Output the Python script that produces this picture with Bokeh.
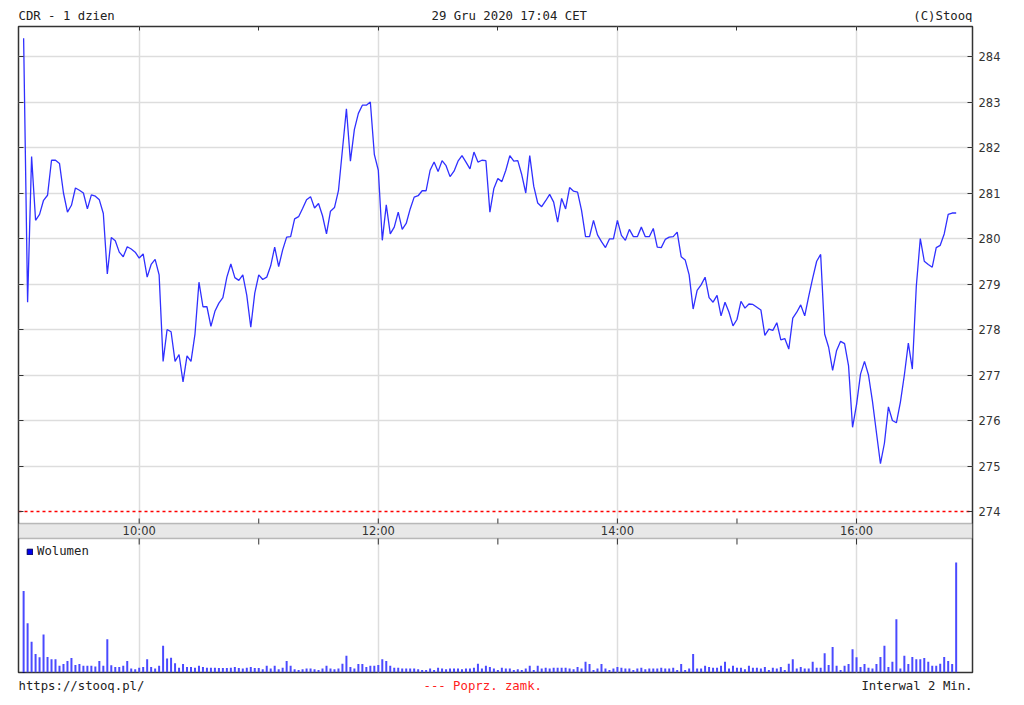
from bokeh.plotting import figure
from bokeh.layouts import column
from bokeh.models import (Range1d, LinearAxis, FixedTicker, BoxAnnotation,
                          Legend, LegendItem, Grid)
from bokeh.core.properties import value
from bokeh.embed import file_html
from bokeh.resources import INLINE

# ---------------- data ----------------
title_left = "CDR - 1 dzien"
title_center = "29 Gru 2020 17:04 CET"
title_right = "(C)Stooq"
footer_left = "https://stooq.pl/"
footer_mid = "--- Poprz. zamk."
footer_right = "Interwal 2 Min."
legend_label = "Wolumen"

start_min = 542          # 09:02, minutes after midnight
interval_min = 2         # "Interwal 2 Min."
prev_close = 274.0

price = [284.4, 278.6, 281.8, 280.4, 280.53, 280.84, 280.95, 281.72, 281.72, 281.65,
         281.0, 280.58, 280.73, 281.11, 281.06, 281.0, 280.65, 280.96, 280.93, 280.85,
         280.55, 279.22, 280.02, 279.95, 279.7, 279.6, 279.82, 279.77, 279.7, 279.57,
         279.66, 279.15, 279.43, 279.54, 279.2, 277.3, 278.0, 277.95, 277.3, 277.45,
         276.85, 277.42, 277.3, 277.9, 279.04, 278.5, 278.5, 278.07, 278.4, 278.58,
         278.7, 279.15, 279.44, 279.14, 279.08, 279.2, 278.75, 278.05, 278.8, 279.2,
         279.1, 279.15, 279.4, 279.81, 279.38, 279.75, 280.03, 280.04, 280.43, 280.48,
         280.66, 280.85, 280.92, 280.67, 280.77, 280.5, 280.1, 280.6, 280.68, 281.05,
         281.95, 282.85, 281.7, 282.4, 282.75, 282.93, 282.93, 283.0, 281.85, 281.5,
         279.96, 280.74, 280.1, 280.25, 280.58, 280.2, 280.33, 280.65, 280.91, 280.94,
         281.05, 281.05, 281.5, 281.68, 281.47, 281.71, 281.6, 281.36, 281.48, 281.7,
         281.82, 281.68, 281.53, 281.9, 281.68, 281.72, 281.71, 280.58, 281.1, 281.32,
         281.25, 281.5, 281.82, 281.7, 281.71, 281.4, 281.0, 281.82, 281.15, 280.78,
         280.7, 280.83, 280.97, 280.8, 280.36, 280.88, 280.65, 281.12, 281.04, 281.02,
         280.62, 280.04, 280.04, 280.4, 280.08, 279.93, 279.8, 279.99, 279.99, 280.4,
         280.07, 279.96, 280.2, 280.04, 280.04, 280.25, 280.04, 280.04, 280.22, 279.81,
         279.8, 279.98, 280.03, 280.04, 280.14, 279.6, 279.53, 279.2, 278.45, 278.86,
         278.98, 279.15, 278.7, 278.6, 278.75, 278.3, 278.6, 278.38, 278.08, 278.22,
         278.62, 278.47, 278.56, 278.55, 278.49, 278.43, 277.87, 278.01, 277.98, 278.15,
         277.77, 277.8, 277.57, 278.25, 278.38, 278.54, 278.3, 278.73, 279.13, 279.5,
         279.65, 277.9, 277.61, 277.1, 277.54, 277.74, 277.69, 277.2, 275.85, 276.35,
         277.02, 277.3, 277.0, 276.42, 275.73, 275.05, 275.5, 276.3, 276.0, 275.95,
         276.4, 277.0, 277.7, 277.13, 278.95, 280.0, 279.5, 279.43, 279.37, 279.8,
         279.85, 280.1, 280.53, 280.56, 280.56]

# volume in thousands of shares
volume_k = [20.4, 12.3, 7.7, 4.6, 3.8, 9.5, 3.9, 3.3, 3.3, 1.7,
            2.1, 2.9, 3.6, 1.9, 2.1, 1.7, 1.7, 1.7, 1.5, 2.9,
            1.7, 8.3, 1.8, 1.4, 1.4, 1.7, 2.9, 1.0, 0.8, 1.2,
            1.4, 3.3, 1.4, 1.0, 1.7, 6.7, 3.5, 3.7, 2.3, 1.2,
            2.1, 1.4, 1.4, 1.2, 1.7, 1.4, 1.2, 1.2, 1.2, 1.1,
            1.1, 1.1, 1.2, 1.4, 1.1, 1.0, 1.2, 1.4, 1.1, 1.1,
            0.8, 1.7, 1.0, 1.7, 0.8, 1.2, 2.9, 1.7, 0.8, 0.6,
            0.8, 1.0, 1.0, 0.8, 0.6, 1.0, 1.7, 1.0, 0.8, 1.0,
            2.2, 4.2, 1.4, 1.0, 2.1, 2.1, 1.4, 1.7, 1.7, 1.9,
            3.3, 2.9, 1.7, 1.2, 1.2, 1.0, 1.0, 1.0, 1.0, 0.8,
            0.6, 0.6, 1.0, 0.6, 1.2, 1.0, 0.8, 1.0, 1.0, 1.0,
            0.8, 1.0, 1.0, 1.2, 2.2, 1.0, 1.7, 1.4, 1.0, 0.6,
            1.2, 1.0, 1.0, 0.6, 0.8, 0.6, 1.0, 1.7, 0.6, 1.7,
            1.0, 1.2, 1.0, 1.2, 1.2, 1.2, 1.2, 1.0, 0.8, 1.4,
            1.0, 2.7, 2.1, 0.6, 1.0, 2.1, 1.0, 0.6, 1.0, 1.4,
            1.2, 1.0, 1.0, 0.6, 1.0, 1.2, 0.8, 1.0, 1.0, 1.0,
            1.2, 1.0, 1.0, 1.2, 0.6, 2.1, 0.6, 1.0, 4.6, 1.0,
            1.0, 1.7, 1.4, 1.2, 1.2, 1.7, 2.7, 1.0, 1.7, 1.2,
            1.2, 0.8, 1.7, 1.2, 1.2, 1.0, 1.4, 0.6, 1.2, 1.0,
            1.4, 0.6, 2.2, 3.3, 1.0, 1.4, 1.0, 1.0, 2.7, 1.2,
            1.2, 4.8, 1.9, 6.4, 1.7, 0.6, 1.7, 2.1, 5.8, 3.8,
            1.4, 2.1, 1.2, 1.0, 2.1, 3.9, 6.7, 1.4, 2.7, 13.3,
            1.0, 4.2, 2.1, 3.9, 3.3, 3.3, 3.6, 2.7, 1.7, 1.7,
            2.2, 3.9, 2.9, 2.1, 27.5]

times = [start_min + interval_min * i for i in range(len(price))]

price_ticks = [274, 275, 276, 277, 278, 279, 280, 281, 282, 283, 284]
grid_price_ticks = [275, 276, 277, 278, 279, 280, 281, 282, 283, 284]
hour_ticks = [600, 660, 720, 780, 840, 900, 960]
label_ticks = [600, 720, 840, 960]
label_text = ["10:00", "12:00", "14:00", "16:00"]

# ---------------- layout constants ----------------
PAGE_W = 1016
FRAME_L, FRAME_R = 18, 972
FRAME_W, FRAME_H = FRAME_R - FRAME_L, 646
PX = 45.5                      # pixels per 1 PLN
REF_P, REF_Y = 284.0, 30.0     # price 284 sits 30 px below frame top
def price_at(px_from_top):
    return REF_P - (px_from_top - REF_Y) / PX

y_top = price_at(0)
y_bot = price_at(FRAME_H)
band_top = price_at(497)
band_bot = price_at(512)
band_mid = price_at(504.5)
vol_end = 161.5
X_START, X_END = 539.43, 1018.2

MONO = "DejaVu Sans Mono"
SANS = "DejaVu Sans"
TXT = "#222222"
RED = "#ff2020"


def text_strip(height, items):
    # frames are aligned with the main chart's frame by the column layout,
    # so the x range is expressed in page pixels of that frame
    f = figure(width=PAGE_W, height=height, x_range=Range1d(FRAME_L, FRAME_R),
               y_range=Range1d(0, height), x_axis_location=None, y_axis_location=None,
               output_backend="svg", toolbar_location=None,
               min_border_left=FRAME_L, min_border_right=PAGE_W - FRAME_R,
               min_border_top=0, min_border_bottom=0, outline_line_color=None)
    for g in f.center:
        if isinstance(g, Grid):
            g.visible = False
    xs, ys, ts, al, cs = [], [], [], [], []
    for (t, x, y, a, c) in items:
        xs.append(x); ys.append(y); ts.append(t); al.append(a); cs.append(c)
    f.text(x=xs, y=ys, text=ts, text_align=al, text_color=cs, text_baseline="middle",
           text_font=value(MONO), text_font_size="12.3px")
    return f


hdr = text_strip(22, [(title_left, 18, 7, "left", TXT),
                      (title_center, 431, 7, "left", TXT),
                      (title_right, 972, 7, "right", TXT)])

p = figure(width=PAGE_W, height=4 + FRAME_H + 2,
           x_range=Range1d(X_START, X_END), y_range=Range1d(y_bot, y_top),
           x_axis_location="above", y_axis_location="right",
           output_backend="svg", toolbar_location=None,
           min_border_left=FRAME_L, min_border_right=PAGE_W - FRAME_R,
           min_border_top=4, min_border_bottom=2)
p.extra_y_ranges = {"vol": Range1d(0, vol_end)}
p.background_fill_color = "white"
p.border_fill_color = "white"
p.outline_line_color = "#333333"
p.outline_line_width = 1.5

# top axis (inward ticks, no labels)
xa = p.xaxis[0]
xa.ticker = FixedTicker(ticks=hour_ticks)
xa.major_tick_in = 4
xa.major_tick_out = 0
xa.major_tick_line_color = "#333333"
xa.major_label_text_font_size = "0px"
xa.major_label_standoff = 0
xa.axis_line_color = None

# right price axis
ya = p.yaxis[0]
ya.ticker = FixedTicker(ticks=price_ticks)
ya.major_tick_in = 5
ya.major_tick_out = 0
ya.major_tick_line_color = "#333333"
ya.major_label_standoff = 6
ya.major_label_text_font = SANS
ya.major_label_text_font_size = "11.5px"
ya.major_label_text_color = "#333333"
ya.axis_line_color = None

la = LinearAxis(ticker=FixedTicker(ticks=price_ticks), major_tick_in=5, major_tick_out=0,
                major_tick_line_color="#333333", major_label_text_font_size="0px",
                major_label_standoff=0, axis_line_color=None)
p.add_layout(la, "left")

p.xgrid.ticker = FixedTicker(ticks=label_ticks)
p.ygrid.ticker = FixedTicker(ticks=grid_price_ticks)
p.xgrid.grid_line_color = "#dddddd"
p.ygrid.grid_line_color = "#dddddd"
p.xgrid.grid_line_width = 1.5
p.ygrid.grid_line_width = 1.5

# time band between the two panels
band = BoxAnnotation(bottom=band_bot, top=band_top, fill_color="#e8e8e8", fill_alpha=1.0,
                     line_color="#333333", line_width=1.5, level="underlay")
p.add_layout(band)
n = len(hour_ticks)
p.segment(x0=hour_ticks, x1=hour_ticks, y0=[band_top] * n, y1=[band_top + 5 / PX] * n,
          line_color="#333333", line_width=1)
p.segment(x0=hour_ticks, x1=hour_ticks, y0=[band_bot] * n, y1=[band_bot - 6 / PX] * n,
          line_color="#333333", line_width=1)
p.text(x=label_ticks, y=[band_mid] * len(label_ticks), text=label_text,
       text_font=value(SANS), text_font_size="11.5px", text_align="center",
       text_baseline="middle", text_color="#333333")

# previous close (dashed red line across the panel)
p.line(x=[X_START, X_END], y=[prev_close, prev_close], line_color="#ff0000",
       line_dash="3 3", line_width=1.6)

# price line
p.line(times, price, line_color="#3030ff", line_width=1.3)

# volume bars
vr = p.vbar(x=times, top=volume_k, bottom=0, width=1.0, y_range_name="vol",
            fill_color="#4a4aff", line_color=None)
# legend swatch: zero-height bar at the first timestamp, styled dark blue
sw = p.vbar(x=times[:1], top=[0], bottom=[0], width=1.0, y_range_name="vol",
            fill_color="#0000ee", line_color="#000055", line_width=1)

leg = Legend(items=[LegendItem(label=legend_label, renderers=[sw])], location=(8, 114),
             glyph_width=7, glyph_height=7, label_height=12, label_standoff=4,
             padding=0, margin=0, spacing=0, border_line_color=None,
             background_fill_alpha=0, label_text_font=MONO, label_text_font_size="12.3px",
             label_text_color=TXT)
p.add_layout(leg)

ftr = text_strip(24, [(footer_left, 18, 13, "left", TXT),
                      (footer_mid, 423, 13, "left", RED),
                      (footer_right, 972, 13, "right", TXT)])

layout = column(hdr, p, ftr, spacing=0)
open("out.html", "w").write(file_html(layout, INLINE))
